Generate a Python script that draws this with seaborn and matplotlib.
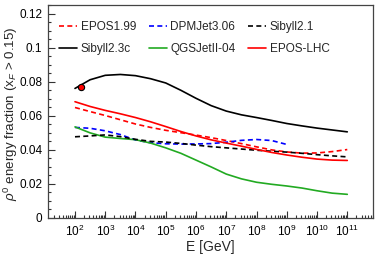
import numpy as np
import pandas as pd
import matplotlib
matplotlib.use("Agg")
import matplotlib.pyplot as plt
import matplotlib.ticker as mticker
import seaborn as sns

log_e = [2.0, 2.5, 3.0, 3.5, 4.0, 4.5, 5.0, 5.5, 6.0, 6.5, 7.0, 7.5, 8.0, 8.5, 9.0, 9.5, 10.0, 10.5, 11.0]

epos199 = [0.0649, 0.0625, 0.0602, 0.0577, 0.0552, 0.0532, 0.0515, 0.0501, 0.0487, 0.0472,
           0.0455, 0.0437, 0.0418, 0.0400, 0.0388, 0.0381, 0.0382, 0.0390, 0.0402]
dpmjet = [0.0532, 0.0527, 0.0512, 0.0490, 0.0458, 0.0442, 0.0436, 0.0434, 0.0435, 0.0437,
          0.0445, 0.0456, 0.0461, 0.0455, 0.0432]
sibyll21 = [0.0477, 0.0482, 0.0488, 0.0478, 0.0462, 0.0450, 0.0446, 0.0438, 0.0428, 0.0419,
            0.0412, 0.0405, 0.0398, 0.0392, 0.0387, 0.0380, 0.0372, 0.0365, 0.0359]
sibyll23c = [0.0761, 0.0812, 0.0838, 0.0843, 0.0836, 0.0818, 0.0793, 0.0750, 0.0703, 0.0660,
             0.0628, 0.0606, 0.0590, 0.0573, 0.0555, 0.0541, 0.0528, 0.0517, 0.0506]
qgsjet = [0.0535, 0.0500, 0.0475, 0.0467, 0.0460, 0.0440, 0.0412, 0.0380, 0.0340, 0.0300,
          0.0258, 0.0230, 0.0210, 0.0198, 0.0188, 0.0176, 0.0160, 0.0146, 0.0139]
eposlhc = [0.0683, 0.0655, 0.0632, 0.0612, 0.0590, 0.0565, 0.0537, 0.0508, 0.0482, 0.0459,
           0.0440, 0.0422, 0.0403, 0.0385, 0.0370, 0.0357, 0.0346, 0.0340, 0.0338]

data_e = [158.0]
data_y = [0.0767]
data_err = [0.0008]

series = [
    ("EPOS1.99", epos199, "#ff0000", "--"),
    ("Sibyll2.3c", sibyll23c, "#000000", "-"),
    ("DPMJet3.06", dpmjet, "#0000ff", "--"),
    ("QGSJetII-04", qgsjet, "#22aa22", "-"),
    ("Sibyll2.1", sibyll21, "#000000", "--"),
    ("EPOS-LHC", eposlhc, "#ff0000", "-"),
]

rows = []
for name, vals, _, _ in series:
    for le, v in zip(log_e, vals):
        rows.append({"model": name, "E": 10 ** le, "frac": v})
df = pd.DataFrame(rows)

sns.set_style("ticks")
plt.rcParams["font.family"] = ["Liberation Sans", "DejaVu Sans"]
plt.rcParams["mathtext.fontset"] = "custom"
plt.rcParams["mathtext.rm"] = "Liberation Sans"
plt.rcParams["mathtext.it"] = "Liberation Sans:italic"
plt.rcParams["mathtext.bf"] = "Liberation Sans:bold"

fig = plt.figure(figsize=(3.75, 2.56), dpi=100)
ax = fig.add_axes([48 / 375, 1 - 218 / 256, 325 / 375, 213 / 256])

for name, vals, color, ls in series:
    sub = df[df["model"] == name]
    sns.lineplot(data=sub, x="E", y="frac", ax=ax, color=color, lw=1.2,
                 label=name, legend=False)
    line = ax.lines[-1]
    if ls == "--":
        line.set_dashes((3.0, 2.0))

ax.errorbar(data_e, data_y, yerr=data_err, fmt="o", color="#ff0000",
            mec="black", mew=0.8, ms=4.5, ecolor="black", elinewidth=0.8, zorder=5)

ax.set_xscale("log")
ax.set_xlim(10 ** 1.108, 10 ** 11.85)
ax.set_ylim(0, 0.1251)

ax.xaxis.set_major_locator(mticker.LogLocator(base=10, numticks=20))
ax.xaxis.set_minor_locator(mticker.LogLocator(base=10, subs=np.arange(2, 10), numticks=20))
ax.xaxis.set_major_formatter(mticker.FuncFormatter(
    lambda v, p: r"$\mathregular{10^{%d}}$" % round(np.log10(v)) if 1.5 < np.log10(v) < 11.5 else ""))
ax.yaxis.set_major_locator(mticker.MultipleLocator(0.02))
ax.yaxis.set_minor_locator(mticker.MultipleLocator(0.005))
ax.yaxis.set_major_formatter(mticker.FuncFormatter(lambda v, p: "%g" % round(v, 3)))

ax.tick_params(which="both", direction="in", top=False, right=False, colors="#333333",
               labelcolor="black", labelsize=8.5, width=0.8)
ax.tick_params(which="major", length=5, pad=4)
ax.tick_params(which="minor", length=2.5)
for s in ax.spines.values():
    s.set_color("#444444")
    s.set_linewidth(0.9)

ax.set_xlabel("E [GeV]", fontsize=10, labelpad=1)
ax.set_ylabel(r"$\rho^{0}$ energy fraction (x$_{F}$ > 0.15)", fontsize=9.6)
ax.yaxis.set_label_coords(-0.085, 0.49)

handles = ax.lines[:6]
labels = [s[0] for s in series]
ax.legend(handles, labels, ncol=3, frameon=False, loc="upper left",
          bbox_to_anchor=(0.035, 0.925), borderpad=0, borderaxespad=0,
          fontsize=8.5, handlelength=1.5, handletextpad=0.3, columnspacing=1.1,
          labelspacing=0.85)

fig.savefig("out.png", dpi=100)
